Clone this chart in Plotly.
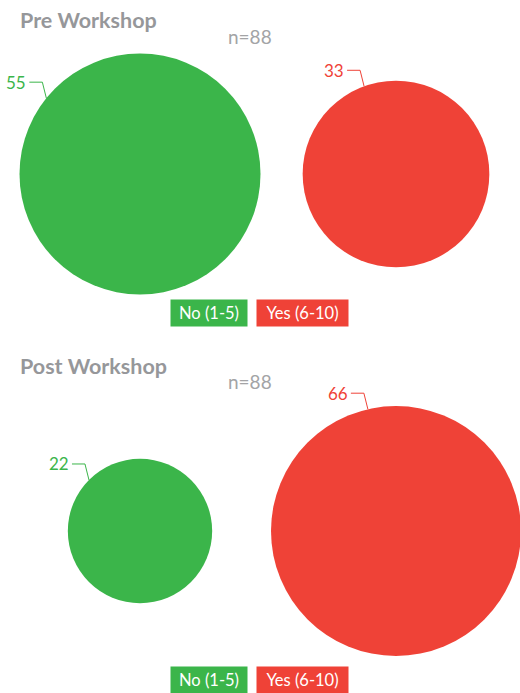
"""Pre / post workshop bubble comparison using plotly"""

import numpy as np
import plotly.graph_objs as go

# data
categories = ['No (1-5)', 'Yes (6-10)']
panels = ['Pre Workshop', 'Post Workshop']
pre_values = [55, 33]
post_values = [22, 66]

colors = ['#3BB54A', '#EF4237']
grey = '#96979A'
font = 'Lato'

W, H = 520, 693
unit = 256.0              # px between the two bubble centres
x_range = [-140 / unit, (W - 140) / unit]

# panel settings: pixel rows of each panel, row of bubble centres, biggest diameter
panel_rows = [(0, 346), (346, 693)]
centre_rows = [174, 531]
max_diam = [241, 250]
label_angles = [[141, 110], [135, 103]]   # where the leader line meets the circle

fig = go.Figure()
shapes = []
annotations = []

for p, values in enumerate([pre_values, post_values]):
    top, bottom = panel_rows[p]
    cy = centre_rows[p]
    xa = 'x' if p == 0 else 'x2'
    ya = 'y' if p == 0 else 'y2'
    # sqrt scale so bubble area follows the value
    diam = max_diam[p] * np.sqrt(np.array(values) / max(values))
    xs = np.arange(len(categories))

    fig.add_trace(go.Scatter(
        x=xs, y=[0] * len(values), mode='markers', xaxis=xa, yaxis=ya,
        marker=dict(size=diam, sizemode='diameter', color=colors, line=dict(width=0), opacity=1),
        cliponaxis=False, hoverinfo='skip', showlegend=False))

    # leader lines + value labels
    for i, v in enumerate(values):
        r = diam[i] / 2
        a = np.radians(label_angles[p][i])
        ex, ey = r * np.cos(a), -r * np.sin(a)   # px offsets, y down
        bx, by = ex - 4, ey - 16                  # elbow
        tx = bx - 13
        path = 'M %f,%f L %f,%f L %f,%f' % (
            i + tx / unit, by, i + bx / unit, by, i + ex / unit, ey)
        shapes.append(dict(type='path', path=path, xref=xa, yref=ya,
                           line=dict(color=colors[i], width=1)))
        annotations.append(dict(x=i + (tx - 1) / unit, y=by, xref=xa, yref=ya,
                                text=str(v), showarrow=False, xanchor='right', yanchor='middle',
                                font=dict(family=font, size=17, color=colors[i])))

    # title and n
    annotations.append(dict(x=18 / W, y=1 - (top + 20) / H, xref='paper', yref='paper',
                            text='<b>' + panels[p] + '</b>', showarrow=False,
                            xanchor='left', yanchor='middle',
                            font=dict(family=font, size=21.5, color=grey)))
    annotations.append(dict(x=250 / W, y=1 - (top + 36) / H, xref='paper', yref='paper',
                            text='n=%d' % sum(values), showarrow=False,
                            xanchor='center', yanchor='middle',
                            font=dict(family=font, size=19, color='#A3A4A6')))

    # legend boxes
    box_w = [76, 91]
    box_x = [171, 257]
    box_y = 313 if p == 0 else 680
    for i, c in enumerate(categories):
        annotations.append(dict(x=(box_x[i] + box_w[i] / 2) / W, y=1 - box_y / H,
                                xref='paper', yref='paper', text=c, showarrow=False,
                                xanchor='center', yanchor='middle', width=box_w[i], height=26,
                                bgcolor=colors[i], borderpad=0,
                                font=dict(family=font, size=16.5, color='white')))

    yr = [bottom - cy, top - cy]
    dom = [1 - bottom / H, 1 - top / H]
    axis_x = dict(range=x_range, visible=False, fixedrange=True)
    axis_y = dict(range=yr, domain=dom, visible=False, fixedrange=True)
    if p == 0:
        fig.update_layout(xaxis=dict(axis_x, anchor='y'), yaxis=dict(axis_y, anchor='x'))
    else:
        fig.update_layout(xaxis2=dict(axis_x, anchor='y2'), yaxis2=dict(axis_y, anchor='x2'))

fig.update_layout(width=W, height=H, margin=dict(l=0, r=0, t=0, b=0),
                  paper_bgcolor='white', plot_bgcolor='white',
                  shapes=shapes, annotations=annotations)

# drop the page's default 8px body margin so the figure fills the window
fig.write_html("out.html", config={'displayModeBar': False},
               post_script="document.body.style.margin='0';")
